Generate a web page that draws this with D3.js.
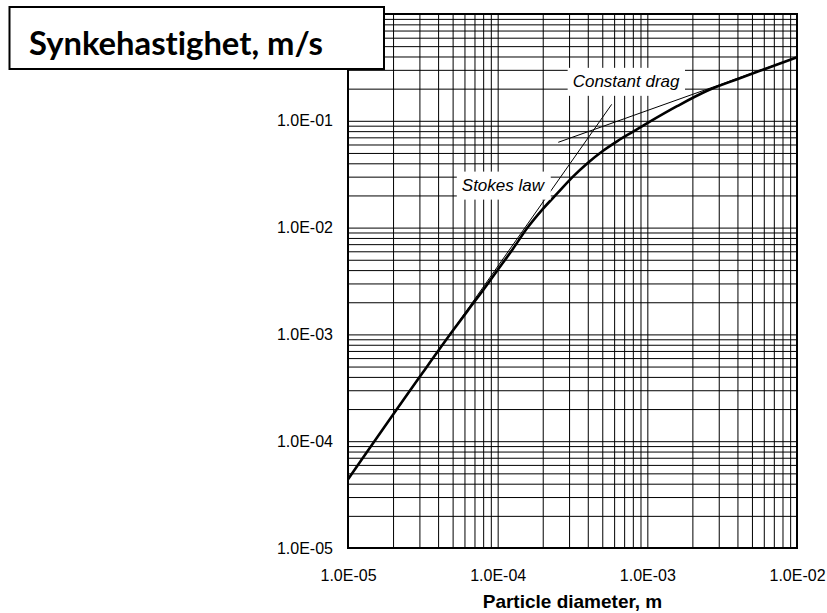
<!DOCTYPE html>
<html>
<head>
<meta charset="utf-8">
<script src="https://cdn.jsdelivr.net/npm/d3@7"></script>
<style>
  body { margin: 0; background: #fff; }
  svg { display: block; }
  .tick text { font-family: Arial, "Liberation Sans", sans-serif; font-size: 16px; fill: #000; }
</style>
</head>
<body>
<svg width="827" height="613"></svg>
<script>
// settling velocity curve
var diameters  = [1e-5, 3.16e-5, 5.01e-5, 6.31e-5, 7.94e-5, 1.0e-4, 1.26e-4, 1.58e-4, 2.0e-4, 2.51e-4,
                  3.16e-4, 3.98e-4, 5.01e-4, 6.31e-4, 7.94e-4, 1.0e-3, 1.58e-3, 2.51e-3, 3.98e-3, 6.31e-3, 1e-2];
var velocities = [4.40e-5, 4.40e-4, 1.08e-3, 1.67e-3, 2.56e-3, 4.01e-3, 6.28e-3, 9.95e-3, 1.49e-2, 2.10e-2,
                  2.97e-2, 4.01e-2, 5.19e-2, 6.46e-2, 7.85e-2, 9.51e-2, 0.137, 0.191, 0.245, 0.311, 0.394];

// asymptotes
var stokesD = [1e-5, 5.78e-4],   stokesV = [4.4e-5, 0.1426];
var dragD   = [2.54e-4, 1e-2],   dragV   = [0.0629, 0.395];

var xDomain = [1e-5, 1e-2],
    yDomain = [1e-5, 1];
var xTicks = [1e-5, 1e-4, 1e-3, 1e-2],
    yTicks = [1e-5, 1e-4, 1e-3, 1e-2, 1e-1];

var svg = d3.select("svg");
var pLeft = 348, pRight = 797, pTop = 14, pBottom = 548;

var x = d3.scaleLog().domain(xDomain).range([pLeft, pRight]);
var y = d3.scaleLog().domain(yDomain).range([pBottom, pTop]);

function sci(d) {
    var e = Math.round(Math.log10(d));
    return "1.0E" + (e < 0 ? "-" : "+") + String(Math.abs(e)).padStart(2, "0");
}

// grid, every 1..9 in each decade
svg.append("g")
    .attr("transform", "translate(0," + pBottom + ")")
    .call(d3.axisBottom(x).tickValues(x.ticks()).tickSize(-(pBottom - pTop)).tickFormat(""))
    .call(function (g) { g.select(".domain").remove(); })
    .selectAll("line").attr("stroke", "#000").attr("stroke-width", 1);

svg.append("g")
    .attr("transform", "translate(" + pLeft + ",0)")
    .call(d3.axisLeft(y).tickValues(y.ticks()).tickSize(-(pRight - pLeft)).tickFormat(""))
    .call(function (g) { g.select(".domain").remove(); })
    .selectAll("line").attr("stroke", "#000").attr("stroke-width", 1);

// plot frame
svg.append("rect")
    .attr("x", pLeft).attr("y", pTop)
    .attr("width", pRight - pLeft).attr("height", pBottom - pTop)
    .attr("fill", "none").attr("stroke", "#000").attr("stroke-width", 2);

// tick labels
svg.append("g")
    .attr("transform", "translate(0," + pBottom + ")")
    .call(d3.axisBottom(x).tickValues(xTicks).tickSize(0).tickPadding(22).tickFormat(sci))
    .call(function (g) { g.select(".domain").remove(); });

svg.append("g")
    .attr("transform", "translate(" + pLeft + ",0)")
    .call(d3.axisLeft(y).tickValues(yTicks).tickSize(0).tickPadding(15).tickFormat(sci))
    .call(function (g) { g.select(".domain").remove(); });

// thin asymptote lines
var line = d3.line().x(function (d) { return x(d[0]); }).y(function (d) { return y(d[1]); });

svg.append("path")
    .datum(d3.zip(stokesD, stokesV))
    .attr("d", line)
    .attr("fill", "none").attr("stroke", "#000").attr("stroke-width", 1);

svg.append("path")
    .datum(d3.zip(dragD, dragV))
    .attr("d", line)
    .attr("fill", "none").attr("stroke", "#000").attr("stroke-width", 1);

// main curve
svg.append("path")
    .datum(d3.zip(diameters, velocities))
    .attr("d", line.curve(d3.curveMonotoneX))
    .attr("fill", "none").attr("stroke", "#000").attr("stroke-width", 2.6)
    .attr("stroke-linejoin", "round");

// labels with white boxes
function note(txt, d, v) {
    var g = svg.append("g");
    var r = g.append("rect").attr("fill", "#fff");
    var t = g.append("text")
        .attr("x", x(d)).attr("y", y(v))
        .style("font-family", "Arial, 'Liberation Sans', sans-serif")
        .style("font-size", "17px")
        .style("font-style", "italic")
        .text(txt);
    var b = t.node().getBBox();
    r.attr("x", b.x - 5).attr("y", b.y - 4).attr("width", b.width + 10).attr("height", b.height + 9);
}
note("Stokes law", 5.76e-5, 0.0222);
note("Constant drag", 3.17e-4, 0.208);

// x axis title
svg.append("text")
    .attr("x", (pLeft + pRight) / 2).attr("y", 608)
    .attr("text-anchor", "middle")
    .style("font-family", "Arial, 'Liberation Sans', sans-serif")
    .style("font-size", "19px")
    .style("font-weight", "bold")
    .text("Particle diameter, m");

// y title in a box at top left
svg.append("rect")
    .attr("x", 9.5).attr("y", 7)
    .attr("width", 374.5).attr("height", 62)
    .attr("fill", "#fff").attr("stroke", "#000").attr("stroke-width", 2);

var title = svg.append("text")
    .attr("x", 29).attr("y", 55)
    .style("font-family", "Lato, 'Open Sans', sans-serif")
    .style("font-weight", "bold")
    .style("font-size", "30px")
    .style("font-variant-ligatures", "none")
    .text("Synkehastighet, m/s");
var w = title.node().getComputedTextLength();
title.style("font-size", (30 * 294 / w) + "px");
</script>
</body>
</html>
